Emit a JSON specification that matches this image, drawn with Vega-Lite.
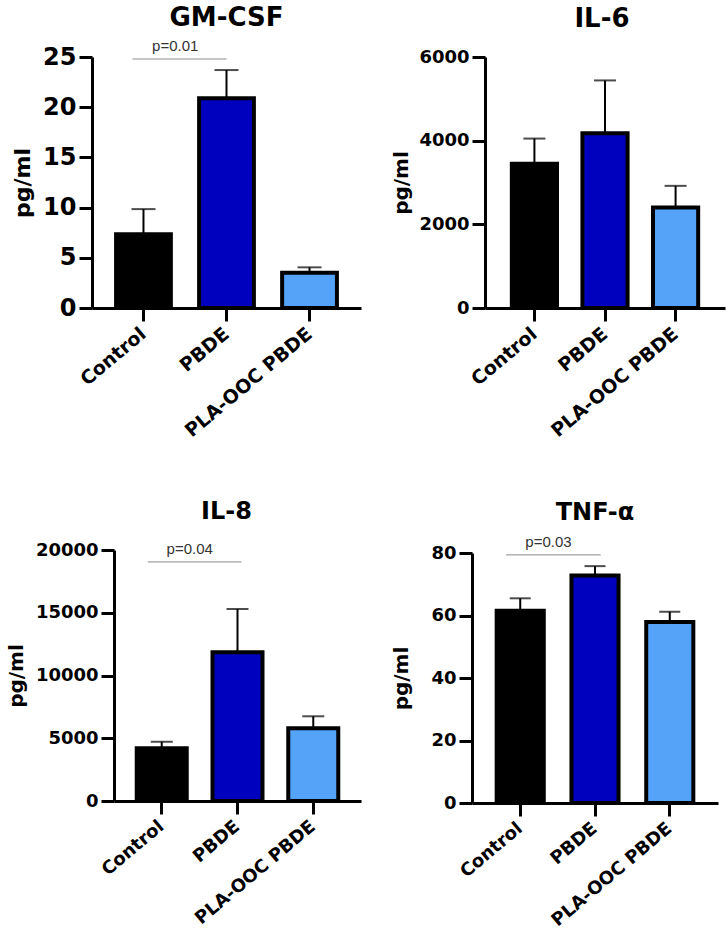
{
  "$schema": "https://vega.github.io/schema/vega-lite/v6.json",
  "padding": {"left": 6, "top": 5, "right": 2, "bottom": 0},
  "datasets": {
    "cyto": [
      {"cytokine": "GM-CSF", "group": "Control", "mean": 7.35, "upper": 9.85},
      {"cytokine": "GM-CSF", "group": "PBDE", "mean": 20.9, "upper": 23.7},
      {"cytokine": "GM-CSF", "group": "PLA-OOC PBDE", "mean": 3.5, "upper": 4.05},
      {"cytokine": "IL-6", "group": "Control", "mean": 3450, "upper": 4050},
      {"cytokine": "IL-6", "group": "PBDE", "mean": 4180, "upper": 5440},
      {"cytokine": "IL-6", "group": "PLA-OOC PBDE", "mean": 2400, "upper": 2920},
      {"cytokine": "IL-8", "group": "Control", "mean": 4200, "upper": 4720},
      {"cytokine": "IL-8", "group": "PBDE", "mean": 11850, "upper": 15300},
      {"cytokine": "IL-8", "group": "PLA-OOC PBDE", "mean": 5800, "upper": 6750},
      {"cytokine": "TNF-α", "group": "Control", "mean": 61.5, "upper": 65.5},
      {"cytokine": "TNF-α", "group": "PBDE", "mean": 72.8, "upper": 75.8},
      {"cytokine": "TNF-α", "group": "PLA-OOC PBDE", "mean": 57.9, "upper": 61.2}
    ],
    "pvals": [
      {"cytokine": "GM-CSF", "from": "Control", "to": "PBDE", "y": 24.8, "label": "p=0.01"},
      {"cytokine": "IL-8", "from": "Control", "to": "PBDE", "y": 19050, "label": "p=0.04"},
      {"cytokine": "TNF-α", "from": "Control", "to": "PBDE", "y": 79.4, "label": "p=0.03"}
    ]
  },
  "columns": 2,
  "align": "none",
  "spacing": {"row": 59, "column": 30},
  "concat": [
    {
      "width": 269,
      "height": 251,
      "title": {"text": "GM-CSF", "fontSize": 26, "offset": 8},
      "layer": [
        {
          "data": {"name": "cyto"},
          "transform": [{"filter": "datum.cytokine === 'GM-CSF'"}],
          "layer": [
            {
              "mark": {"type": "rule", "strokeWidth": 2, "color": "black"},
              "encoding": {
                "x": {"field": "group", "type": "nominal", "title": null},
                "y": {"field": "mean", "type": "quantitative", "title": "pg/ml"},
                "y2": {"field": "upper"}
              }
            },
            {
              "mark": {"type": "tick", "size": 24, "thickness": 2, "color": "black"},
              "encoding": {
                "x": {"field": "group", "type": "nominal", "title": null},
                "y": {"field": "upper", "type": "quantitative", "title": "pg/ml"}
              }
            },
            {
              "mark": {"type": "bar", "stroke": "black", "strokeWidth": 4},
              "encoding": {
                "x": {
                  "field": "group", "type": "nominal", "title": null, "sort": null,
                  "scale": {"domain": ["Control", "PBDE", "PLA-OOC PBDE"], "paddingInner": 0.34, "paddingOuter": 0.29},
                  "axis": {"labelAngle": -40, "labelAlign": "right", "labelBaseline": "middle", "labelPadding": 10, "labelFontSize": 19}
                },
                "y": {
                  "field": "mean", "type": "quantitative", "title": "pg/ml",
                  "scale": {"domain": [0, 25], "nice": false},
                  "axis": {"values": [0, 5, 10, 15, 20, 25], "labelFontSize": 24, "titleFontSize": 22, "titlePadding": 8}
                },
                "color": {
                  "field": "group", "type": "nominal", "legend": null,
                  "scale": {"domain": ["Control", "PBDE", "PLA-OOC PBDE"], "range": ["#000000", "#0000BF", "#55A2F9"]}
                }
              }
            }
          ]
        },
        {
          "data": {"name": "pvals"},
          "transform": [{"filter": "datum.cytokine === 'GM-CSF'"}],
          "layer": [
            {
              "mark": {"type": "rule", "strokeWidth": 1, "color": "#8a8a8a"},
              "encoding": {
                "x": {"field": "from", "type": "nominal", "title": null, "bandPosition": 0.3},
                "x2": {"field": "to", "bandPosition": 0.5},
                "y": {"field": "y", "type": "quantitative", "title": "pg/ml"}
              }
            },
            {
              "mark": {"type": "text", "font": "Liberation Sans", "fontSize": 15, "color": "#333333", "baseline": "alphabetic", "dy": -8},
              "encoding": {
                "x": {"field": "from", "type": "nominal", "title": null, "bandPosition": 1.08},
                "y": {"field": "y", "type": "quantitative", "title": "pg/ml"},
                "text": {"field": "label"}
              }
            }
          ]
        }
      ]
    },
    {
      "width": 246,
      "height": 251,
      "title": {"text": "IL-6", "fontSize": 26, "offset": 16},
      "data": {"name": "cyto"},
      "transform": [{"filter": "datum.cytokine === 'IL-6'"}],
      "layer": [
        {
          "mark": {"type": "rule", "strokeWidth": 2, "color": "black"},
          "encoding": {
            "x": {"field": "group", "type": "nominal", "title": null},
            "y": {"field": "mean", "type": "quantitative", "title": "pg/ml"},
            "y2": {"field": "upper"}
          }
        },
        {
          "mark": {"type": "tick", "size": 22, "thickness": 2, "color": "black"},
          "encoding": {
            "x": {"field": "group", "type": "nominal", "title": null},
            "y": {"field": "upper", "type": "quantitative", "title": "pg/ml"}
          }
        },
        {
          "mark": {"type": "bar", "stroke": "black", "strokeWidth": 4},
          "encoding": {
            "x": {
              "field": "group", "type": "nominal", "title": null, "sort": null,
              "scale": {"domain": ["Control", "PBDE", "PLA-OOC PBDE"], "range": [6, 246], "paddingInner": 0.36, "paddingOuter": 0.38},
              "axis": {"labelAngle": -40, "labelAlign": "right", "labelBaseline": "middle", "labelPadding": 10, "labelFontSize": 19}
            },
            "y": {
              "field": "mean", "type": "quantitative", "title": "pg/ml",
              "scale": {"domain": [0, 6000], "nice": false},
              "axis": {"offset": -6, "values": [0, 2000, 4000, 6000], "format": "d", "labelFontSize": 18, "titleFontSize": 20, "titlePadding": 7}
            },
            "color": {
              "field": "group", "type": "nominal", "legend": null,
              "scale": {"domain": ["Control", "PBDE", "PLA-OOC PBDE"], "range": ["#000000", "#0000BF", "#55A2F9"]}
            }
          }
        }
      ]
    },
    {
      "width": 269,
      "height": 251,
      "title": {"text": "IL-8", "fontSize": 24, "offset": 17},
      "layer": [
        {
          "data": {"name": "cyto"},
          "transform": [{"filter": "datum.cytokine === 'IL-8'"}],
          "layer": [
            {
              "mark": {"type": "rule", "strokeWidth": 2, "color": "black"},
              "encoding": {
                "x": {"field": "group", "type": "nominal", "title": null},
                "y": {"field": "mean", "type": "quantitative", "title": "pg/ml"},
                "y2": {"field": "upper"}
              }
            },
            {
              "mark": {"type": "tick", "size": 22, "thickness": 2, "color": "black"},
              "encoding": {
                "x": {"field": "group", "type": "nominal", "title": null},
                "y": {"field": "upper", "type": "quantitative", "title": "pg/ml"}
              }
            },
            {
              "mark": {"type": "bar", "stroke": "black", "strokeWidth": 4},
              "encoding": {
                "x": {
                  "field": "group", "type": "nominal", "title": null, "sort": null,
                  "scale": {"domain": ["Control", "PBDE", "PLA-OOC PBDE"], "range": [22, 269], "paddingInner": 0.34, "paddingOuter": 0.3},
                  "axis": {"labelAngle": -40, "labelAlign": "right", "labelBaseline": "middle", "labelPadding": 10, "labelFontSize": 18}
                },
                "y": {
                  "field": "mean", "type": "quantitative", "title": "pg/ml",
                  "scale": {"domain": [0, 20000], "nice": false},
                  "axis": {"offset": -22, "values": [0, 5000, 10000, 15000, 20000], "format": "d", "labelFontSize": 18, "titleFontSize": 20, "titlePadding": 9}
                },
                "color": {
                  "field": "group", "type": "nominal", "legend": null,
                  "scale": {"domain": ["Control", "PBDE", "PLA-OOC PBDE"], "range": ["#000000", "#0000BF", "#55A2F9"]}
                }
              }
            }
          ]
        },
        {
          "data": {"name": "pvals"},
          "transform": [{"filter": "datum.cytokine === 'IL-8'"}],
          "layer": [
            {
              "mark": {"type": "rule", "strokeWidth": 1, "color": "#8a8a8a"},
              "encoding": {
                "x": {"field": "from", "type": "nominal", "title": null, "bandPosition": 0.22},
                "x2": {"field": "to", "bandPosition": 0.58},
                "y": {"field": "y", "type": "quantitative", "title": "pg/ml"}
              }
            },
            {
              "mark": {"type": "text", "font": "Liberation Sans", "fontSize": 15, "color": "#333333", "baseline": "alphabetic", "dy": -8},
              "encoding": {
                "x": {"field": "from", "type": "nominal", "title": null, "bandPosition": 1.06},
                "y": {"field": "y", "type": "quantitative", "title": "pg/ml"},
                "text": {"field": "label"}
              }
            }
          ]
        }
      ]
    },
    {
      "width": 246,
      "height": 250,
      "title": {"text": "TNF-α", "fontSize": 24, "offset": 10},
      "layer": [
        {
          "data": {"name": "cyto"},
          "transform": [{"filter": "datum.cytokine === 'TNF-α'"}],
          "layer": [
            {
              "mark": {"type": "rule", "strokeWidth": 2, "color": "black"},
              "encoding": {
                "x": {"field": "group", "type": "nominal", "title": null},
                "y": {"field": "mean", "type": "quantitative", "title": "pg/ml"},
                "y2": {"field": "upper"}
              }
            },
            {
              "mark": {"type": "tick", "size": 21, "thickness": 2, "color": "black"},
              "encoding": {
                "x": {"field": "group", "type": "nominal", "title": null},
                "y": {"field": "upper", "type": "quantitative", "title": "pg/ml"}
              }
            },
            {
              "mark": {"type": "bar", "stroke": "black", "strokeWidth": 4},
              "encoding": {
                "x": {
                  "field": "group", "type": "nominal", "title": null, "sort": null,
                  "scale": {"domain": ["Control", "PBDE", "PLA-OOC PBDE"], "paddingInner": 0.37, "paddingOuter": 0.33},
                  "axis": {"labelAngle": -40, "labelAlign": "right", "labelBaseline": "middle", "labelPadding": 10, "labelFontSize": 18}
                },
                "y": {
                  "field": "mean", "type": "quantitative", "title": "pg/ml",
                  "scale": {"domain": [0, 80], "nice": false},
                  "axis": {"values": [0, 20, 40, 60, 80], "labelFontSize": 18, "titleFontSize": 20, "titlePadding": 19}
                },
                "color": {
                  "field": "group", "type": "nominal", "legend": null,
                  "scale": {"domain": ["Control", "PBDE", "PLA-OOC PBDE"], "range": ["#000000", "#0000BF", "#55A2F9"]}
                }
              }
            }
          ]
        },
        {
          "data": {"name": "pvals"},
          "transform": [{"filter": "datum.cytokine === 'TNF-α'"}],
          "layer": [
            {
              "mark": {"type": "rule", "strokeWidth": 1, "color": "#8a8a8a"},
              "encoding": {
                "x": {"field": "from", "type": "nominal", "title": null, "bandPosition": 0.2},
                "x2": {"field": "to", "bandPosition": 0.62},
                "y": {"field": "y", "type": "quantitative", "title": "pg/ml"}
              }
            },
            {
              "mark": {"type": "text", "font": "Liberation Sans", "fontSize": 15, "color": "#333333", "baseline": "alphabetic", "dy": -8},
              "encoding": {
                "x": {"field": "from", "type": "nominal", "title": null, "bandPosition": 1.1},
                "y": {"field": "y", "type": "quantitative", "title": "pg/ml"},
                "text": {"field": "label"}
              }
            }
          ]
        }
      ]
    }
  ],
  "config": {
    "view": {"stroke": null},
    "font": "DejaVu Sans",
    "title": {"font": "DejaVu Sans", "fontWeight": "bold", "color": "black", "anchor": "middle", "frame": "group"},
    "axis": {
      "grid": false,
      "domainColor": "black",
      "domainWidth": 3,
      "tickColor": "black",
      "tickWidth": 3,
      "tickSize": 13,
      "labelFont": "DejaVu Sans",
      "labelFontWeight": "bold",
      "labelColor": "black",
      "labelPadding": 3,
      "titleFont": "DejaVu Sans",
      "titleFontWeight": "bold",
      "titleColor": "black"
    }
  }
}
